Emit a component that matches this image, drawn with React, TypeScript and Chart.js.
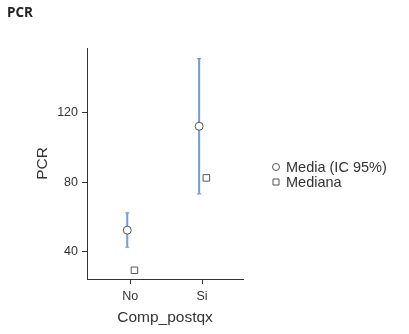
import React, { useEffect, useRef } from "react";
import { Chart, registerables } from "chart.js";

Chart.register(...registerables);

const categories = ["No", "Si"];
const mediaValues = [52.5, 112.1];
const ciLower = [42.7, 73.3];
const ciUpper = [62.4, 150.9];
const medianaValues = [29.5, 82.5];
const yTicks = [40, 80, 120];
const legendLabels = ["Media (IC 95%)", "Mediana"];
const chartTitle = "PCR";
const xTitle = "Comp_postqx";
const yTitle = "PCR";

const FONT = "'Liberation Sans', Arial, sans-serif";
const TITLE_FONT = "'Open Sans', 'Noto Sans', sans-serif";
const ERR_COLOR = "#6f9be0";
const MARK_BORDER = "#555555";

export default function App() {
  const ref = useRef<HTMLCanvasElement>(null);
  useEffect(() => {
    if (!ref.current) return;
    const errorBars = {
      id: "errorBars",
      beforeDatasetsDraw(chart: any) {
        const { ctx } = chart;
        const ys = chart.scales.y;
        const meta = chart.getDatasetMeta(0);
        ctx.save();
        ctx.strokeStyle = ERR_COLOR;
        categories.forEach((_, i) => {
          const px = meta.data[i].x;
          const yl = ys.getPixelForValue(ciLower[i]);
          const yu = ys.getPixelForValue(ciUpper[i]);
          ctx.lineWidth = 2;
          ctx.beginPath();
          ctx.moveTo(px, yl);
          ctx.lineTo(px, yu);
          ctx.stroke();
          ctx.lineWidth = 1.2;
          ctx.beginPath();
          ctx.moveTo(px - 2, yl);
          ctx.lineTo(px + 2, yl);
          ctx.moveTo(px - 2, yu);
          ctx.lineTo(px + 2, yu);
          ctx.stroke();
        });
        ctx.restore();
      },
      afterDraw(chart: any) {
        const { ctx } = chart;
        ctx.save();
        ctx.fillStyle = "#222";
        ctx.font = `bold 13.5px ${TITLE_FONT}`;
        ctx.textBaseline = "middle";
        ctx.textAlign = "left";
        ctx.fillText(chartTitle, 7, 13);
        // legend
        ctx.font = `14.5px ${FONT}`;
        const lx = 276;
        const ly0 = 167;
        const dy = 15;
        legendLabels.forEach((lab, i) => {
          const y = ly0 + i * dy;
          ctx.strokeStyle = MARK_BORDER;
          ctx.lineWidth = 1;
          ctx.fillStyle = "#fff";
          ctx.beginPath();
          if (i === 0) {
            ctx.arc(lx, y, 3.5, 0, Math.PI * 2);
          } else {
            ctx.rect(lx - 3, y - 3, 6, 6);
          }
          ctx.fill();
          ctx.stroke();
          ctx.fillStyle = "#333";
          ctx.fillText(lab, lx + 10, y + 1);
        });
        ctx.restore();
      },
    };

    const chart = new Chart(ref.current, {
      type: "scatter",
      data: {
        datasets: [
          {
            label: legendLabels[0],
            data: mediaValues.map((v, i) => ({ x: i - 0.04, y: v })),
            pointStyle: "circle",
            pointRadius: 4,
            pointBackgroundColor: "#ffffff",
            pointBorderColor: MARK_BORDER,
            pointBorderWidth: 1,
          },
          {
            label: legendLabels[1],
            data: medianaValues.map((v, i) => ({ x: i + 0.06, y: v })),
            pointStyle: "rect",
            pointRadius: 4.6,
            pointBackgroundColor: "#ffffff",
            pointBorderColor: MARK_BORDER,
            pointBorderWidth: 1,
          },
        ],
      },
      options: {
        animation: false,
        responsive: false,
        layout: { padding: { top: 48, right: 166, left: 0, bottom: 0 } },
        plugins: {
          legend: { display: false },
          tooltip: { enabled: false },
          title: { display: false },
        },
        scales: {
          x: {
            type: "linear",
            min: -0.6,
            max: 1.57,
            afterBuildTicks: (s: any) => {
              s.ticks = categories.map((_, i) => ({ value: i }));
            },
            afterFit: (s: any) => {
              s.height = 55;
            },
            grid: {
              display: true,
              drawOnChartArea: false,
              drawTicks: true,
              tickLength: 5,
              color: "#333",
            },
            border: { display: true, color: "#333", width: 1 },
            ticks: {
              callback: (v: any) => categories[v] ?? "",
              color: "#333",
              font: { size: 12.5, family: FONT },
              padding: 5,
              maxRotation: 0,
            },
            title: {
              display: true,
              text: xTitle,
              color: "#333",
              font: { size: 15.5, family: FONT },
              padding: { top: 0, bottom: 7 },
            },
          },
          y: {
            type: "linear",
            min: 24.5,
            max: 157,
            afterBuildTicks: (s: any) => {
              s.ticks = yTicks.map((v) => ({ value: v }));
            },
            afterFit: (s: any) => {
              s.width = 87;
            },
            grid: {
              display: true,
              drawOnChartArea: false,
              drawTicks: true,
              tickLength: 5,
              color: "#333",
            },
            border: { display: true, color: "#333", width: 1 },
            ticks: {
              color: "#333",
              font: { size: 12.5, family: FONT },
              padding: 4,
            },
            title: {
              display: true,
              text: yTitle,
              color: "#333",
              font: { size: 15.5, family: FONT },
              padding: { top: 33, bottom: 0 },
            },
          },
        },
      },
      plugins: [errorBars],
    });
    return () => chart.destroy();
  }, []);

  return (
    <div style={{ position: "fixed", left: 0, top: 0, width: 409, height: 334, background: "#fff" }}>
      <canvas ref={ref} width={409} height={334} style={{ width: 409, height: 334 }} />
    </div>
  );
}
